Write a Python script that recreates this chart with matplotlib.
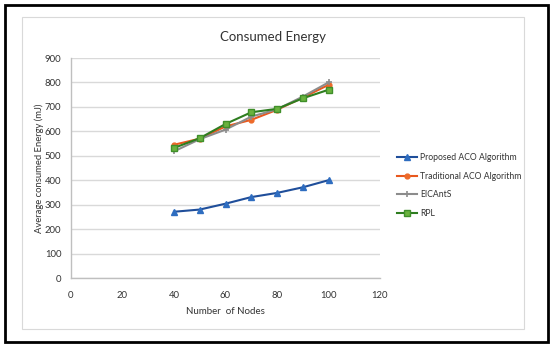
import matplotlib
matplotlib.use("Agg")
import matplotlib.pyplot as plt
from matplotlib.patches import Rectangle

plt.rcParams['font.family'] = ['Lato', 'DejaVu Sans']

nodes = [40, 50, 60, 70, 80, 90, 100]
proposed = [271, 280, 304, 331, 348, 371, 400]
traditional = [545, 570, 620, 647, 688, 738, 790]
eicants = [518, 568, 607, 660, 690, 742, 800]
rpl = [532, 572, 630, 678, 692, 735, 770]

series_names = ["Proposed ACO Algorithm", "Traditional ACO Algorithm", "EICAntS", "RPL"]
x_ticks = [0, 20, 40, 60, 80, 100, 120]
y_ticks = [0, 100, 200, 300, 400, 500, 600, 700, 800, 900]

W, H = 559, 352
fig = plt.figure(figsize=(W / 100, H / 100), dpi=100)

# outer black border
fig.patches.append(Rectangle((5 / W, 1 - 342 / H), 543 / W, 337 / H,
                             transform=fig.transFigure, fill=False,
                             edgecolor='black', linewidth=2.0))
# inner grey border
fig.patches.append(Rectangle((22 / W, 1 - 329 / H), 502 / W, 312 / H,
                             transform=fig.transFigure, fill=False,
                             edgecolor='#D9D9D9', linewidth=0.8))

ax = fig.add_axes([71 / W, 1 - 278 / H, (380 - 71) / W, (278 - 58) / H])

styles = [
    dict(color='#1F4E9A', marker='^', mfc='#2E6DC0', mec='#2E6DC0', ms=4.5, lw=1.5),
    dict(color='#E8581E', marker='o', mfc='#ED6A2A', mec='#ED6A2A', ms=3.5, lw=1.5),
    dict(color='#8C8C8C', marker='+', mfc='#8C8C8C', mec='#8C8C8C', ms=4.5, mew=1.2, lw=1.5),
    dict(color='#2E7D1F', marker='s', mfc='#6AB23E', mec='#3F8F2A', ms=4.5, lw=1.5),
]
data = [proposed, traditional, eicants, rpl]
handles = []
for name, vals, st in zip(series_names, data, styles):
    h, = ax.plot(nodes, vals, label=name, **st)
    handles.append(h)

ax.set_xlim(0, 120)
ax.set_ylim(0, 900)
ax.set_xticks(x_ticks)
ax.set_yticks(y_ticks)
ax.tick_params(axis='both', length=0, labelsize=6.8, colors='#333333')
ax.tick_params(axis='x', pad=9)
ax.tick_params(axis='y', pad=7)
ax.grid(axis='y', color='#D9D9D9', linewidth=1.0)
ax.set_axisbelow(True)
for s in ['top', 'right']:
    ax.spines[s].set_visible(False)
for s in ['left', 'bottom']:
    ax.spines[s].set_color('#BFBFBF')
    ax.spines[s].set_linewidth(1.0)

ax.set_xlabel("Number  of Nodes", fontsize=7, color='#333333')
ax.set_ylabel("Average consumed Energy (mJ)", fontsize=6.8, color='#333333')
ax.xaxis.set_label_coords(0.5, -(311 - 278) / 220, transform=ax.transAxes)
ax.yaxis.set_label_coords(-(71 - 39) / 309, 0.5, transform=ax.transAxes)
ax.xaxis.label.set_va('center')
ax.yaxis.label.set_va('center')

fig.text(273 / W, 1 - 37 / H, "Consumed Energy", ha='center', va='center',
         fontsize=9.5, color='#333333')

leg = fig.legend(handles=handles, labels=series_names, loc='upper left',
                 bbox_to_anchor=(394 / W, 1 - 150 / H), frameon=False,
                 fontsize=6.2, handlelength=2.3, handletextpad=0.3,
                 labelspacing=1.1, borderaxespad=0)
for t in leg.get_texts():
    t.set_color('#333333')

fig.savefig("out.png", dpi=100)
